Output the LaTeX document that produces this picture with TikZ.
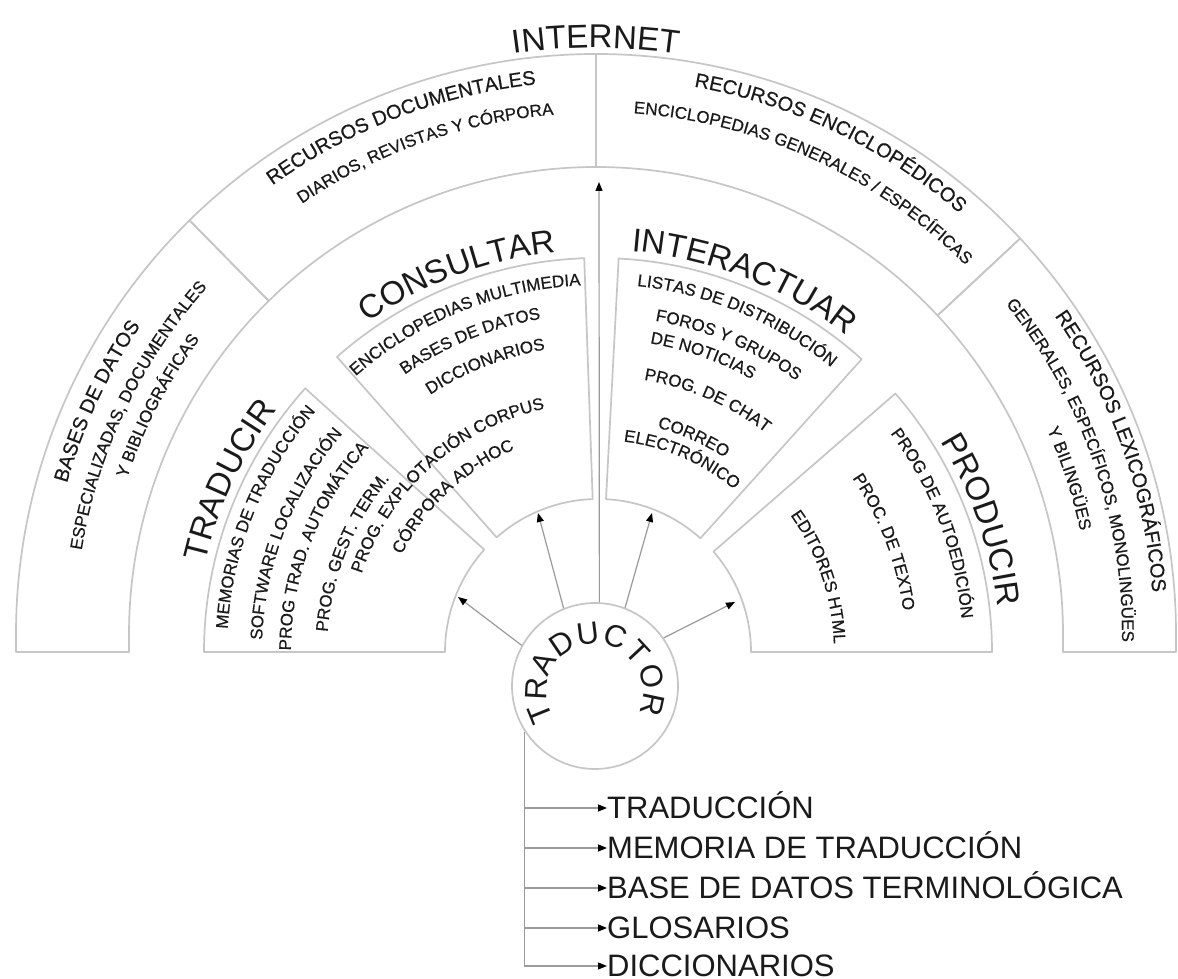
\documentclass[tikz,border=0pt]{standalone}
\usepackage{fontspec}
\setmainfont{Liberation Sans}
\newfontfamily\lblfont{Liberation Sans}[FakeBold=0.5]
\usetikzlibrary{decorations.text,arrows.meta}
\definecolor{txt}{HTML}{1A1A1A}
\definecolor{ln}{HTML}{C6C6C6}
\definecolor{arl}{HTML}{9A9A9A}
\newcommand\curvetext[4]{\path[decorate,decoration={text along path,text align=center,text color=txt,text={|\fontsize{#3}{#3}\selectfont|#4}}] ({#1+80}:#2) arc[start angle={#1+80},end angle={#1-80},radius=#2];}
\newcommand\curvelbl[4]{\path[decorate,decoration={text along path,text align=center,text color=txt,text={|\lblfont\fontsize{#3}{#3}\selectfont|#4}}] ({#1+80}:#2) arc[start angle={#1+80},end angle={#1-80},radius=#2];}
\begin{document}
\begin{tikzpicture}[x=1pt,y=1pt,
  box/.style={draw=ln,line width=1.7pt,line join=round},
  arr/.style={draw=arl,line width=1.2pt,-{Triangle[length=9pt,width=7pt,color=black]}},
  lst/.style={anchor=west,inner sep=0pt,text height=22pt,text depth=0pt,font=\fontsize{31}{31}\selectfont,text=txt}]
\useasboundingbox (0,0) rectangle (1178,979);
\fill[white] (0,0) rectangle (1178,979);
% outer ring
\begin{scope}[shift={(596,345)}]
 \draw[box] (-467pt,-18pt) -- (-580pt,-18pt) -- (180:580pt) arc[start angle=180,end angle=134.5,radius=580pt] -- (134.5:467pt) arc[start angle=134.5,end angle=180,radius=467pt] -- cycle;
 \draw[box] (134.5:580pt) arc[start angle=134.5,end angle=90,radius=580pt] -- (90:467pt) arc[start angle=90,end angle=134.5,radius=467pt] -- cycle;
 \draw[box] (90:580pt) arc[start angle=90,end angle=43,radius=580pt] -- (43:467pt) arc[start angle=43,end angle=90,radius=467pt] -- cycle;
 \draw[box] (43:580pt) arc[start angle=43,end angle=0,radius=580pt] -- (580pt,-18pt) -- (467pt,-18pt) -- (0:467pt) arc[start angle=0,end angle=43,radius=467pt] -- cycle;
 \curvetext{90}{586pt}{33}{INTERNET}
 \curvelbl{155}{550pt}{20}{BASES DE DATOS}
 \curvelbl{154.5}{521pt}{17}{ESPECIALIZADAS, DOCUMENTALES}
 \curvelbl{152.5}{494pt}{17}{Y BIBLIOGRÁFICAS}
 \curvelbl{111}{553pt}{20}{RECURSOS DOCUMENTALES}
 \curvelbl{109.5}{521pt}{17}{DIARIOS, REVISTAS Y CÓRPORA}
 \curvelbl{64.5}{556pt}{20}{RECURSOS ENCICLOPÉDICOS}
 \curvelbl{65.4}{522pt}{17}{ENCICLOPEDIAS GENERALES / ESPECÍFICAS}
 \curvelbl{19.5}{558pt}{20}{RECURSOS LEXICOGRÁFICOS}
 \curvelbl{19}{526pt}{17}{GENERALES, ESPECÍFICOS, MONOLINGÜES}
 \curvelbl{18.2}{495pt}{17}{Y BILINGÜES}
\end{scope}
% middle boxes
\begin{scope}[shift={(598,327)}]
 \draw[box] (-153pt,0pt) -- (-394pt,0pt) arc[start angle=180,end angle=138,radius=394pt] -- (138:153pt) arc[start angle=138,end angle=180,radius=153pt] -- cycle;
 \draw[box] (131.5:153pt) -- (131.5:394pt) arc[start angle=131.5,end angle=92,radius=394pt] -- (92:153pt) arc[start angle=92,end angle=131.5,radius=153pt] -- cycle;
 \draw[box] (87:153pt) -- (87:394pt) arc[start angle=87,end angle=48,radius=394pt] -- (48:153pt) arc[start angle=48,end angle=87,radius=153pt] -- cycle;
 \draw[box] (41:153pt) -- (41:394pt) arc[start angle=41,end angle=0,radius=394pt] -- (153pt,0pt) arc[start angle=0,end angle=41,radius=153pt] -- cycle;
 \curvetext{155}{402pt}{33}{TRADUCIR}
 \curvelbl{158}{371pt}{17}{MEMORIAS DE TRADUCCIÓN}
 \curvelbl{158.7}{336pt}{17}{SOFTWARE LOCALIZACIÓN}
 \curvelbl{159}{307pt}{17}{PROG TRAD. AUTOMÁTICA}
 \curvelbl{158}{271pt}{17}{PROG. GEST. TERM.}
 \curvelbl{132}{249pt}{17}{PROG. EXPLOTACIÓN CORPUS}
 \curvelbl{133}{219pt}{17}{CÓRPORA AD-HOC}
 \curvetext{110.5}{402pt}{33}{CONSULTAR}
 \curvelbl{112}{367pt}{17}{ENCICLOPEDIAS MULTIMEDIA}
 \curvelbl{112.3}{338pt}{17}{BASES DE DATOS}
 \curvelbl{111.5}{307pt}{17}{DICCIONARIOS}
 \curvetext{68.5}{402pt}{33}{INTERACTUAR}
 \curvelbl{67.3}{368pt}{17}{LISTAS DE DISTRIBUCIÓN}
 \curvelbl{67}{336pt}{17}{FOROS Y GRUPOS}
 \curvelbl{70.5}{313pt}{17}{DE NOTICIAS}
 \curvelbl{66.5}{276pt}{17}{PROG. DE CHAT}
 \curvelbl{66}{232pt}{17}{CORREO}
 \curvelbl{66.5}{212pt}{17}{ELECTRÓNICO}
 \curvetext{19}{402pt}{33}{PRODUCIR}
 \curvelbl{21}{365pt}{17}{PROG DE AUTOEDICIÓN}
 \curvelbl{21}{308pt}{17}{PROC. DE TEXTO}
 \curvelbl{18.7}{236pt}{17}{EDITORES HTML}
\end{scope}
% traductor
\node[circle,draw=ln,line width=1.7pt,minimum size=166pt,inner sep=0pt] (trad) at (595,293) {};
\begin{scope}[shift={(595,287)}]
\foreach \ch/\ang [count=\i] in {T/202,R/177,A/151,D/124,U/97,C/70,T/43,O/15,R/-12}
  \node[font=\fontsize{31}{31}\selectfont,text=txt,rotate=\ang-90,inner sep=0pt] (c\i) at (\ang:59pt) {\ch};
\end{scope}
\coordinate (t1) at (458,382);
\coordinate (t2) at (538,466);
\coordinate (t3) at (652,466);
\coordinate (t4) at (735,377);
\coordinate (t5) at (599,797);
\draw[arr] (trad.151) -- (t1);
\draw[arr] (trad.112) -- (t2);
\draw[arr] (trad.69) -- (t3);
\draw[arr] (trad.35) -- (t4);
\draw[arr] (trad.87) -- (t5);
% list
\node[lst] (l1) at (607,171) {TRADUCCIÓN};
\node[lst] (l2) at (607,131) {MEMORIA DE TRADUCCIÓN};
\node[lst] (l3) at (607,91) {BASE DE DATOS TERMINOLÓGICA};
\node[lst] (l4) at (607,51) {GLOSARIOS};
\node[lst] (l5) at (607,13) {DICCIONARIOS};
\draw[arr] (trad.213) |- (l5.west);
\draw[arr] (trad.213 |- l1.west) -- (l1.west);
\draw[arr] (trad.213 |- l2.west) -- (l2.west);
\draw[arr] (trad.213 |- l3.west) -- (l3.west);
\draw[arr] (trad.213 |- l4.west) -- (l4.west);
\end{tikzpicture}
\end{document}
